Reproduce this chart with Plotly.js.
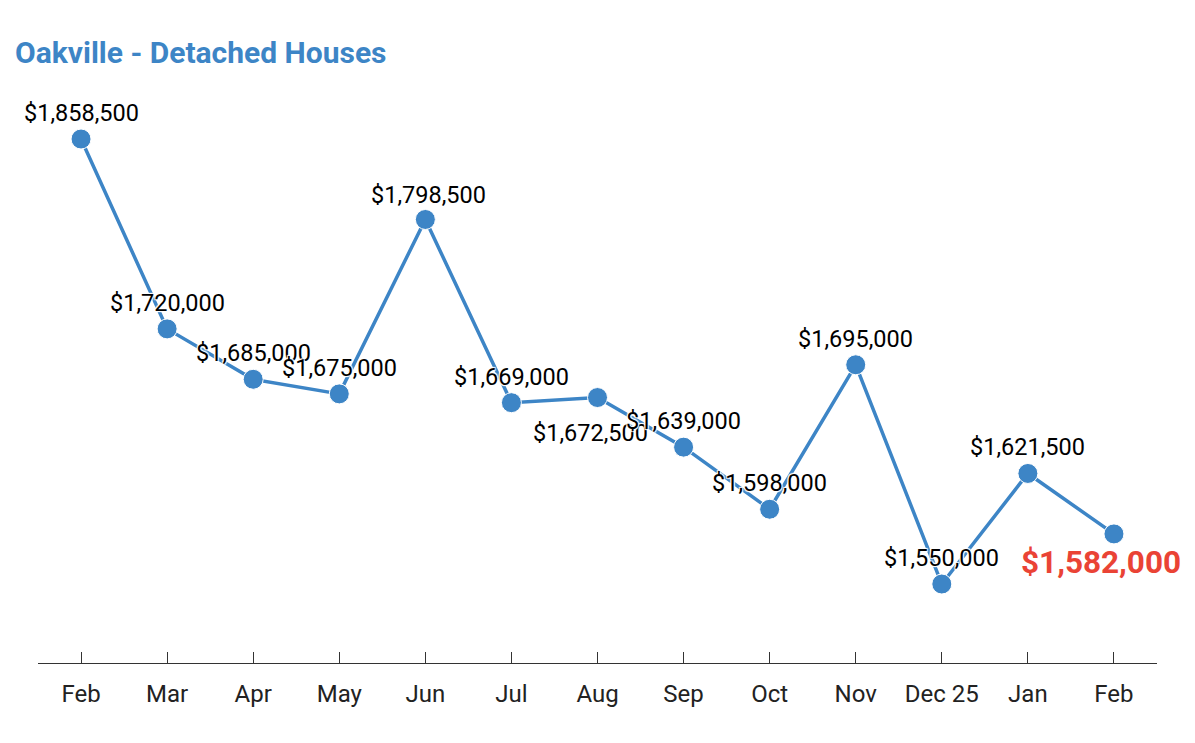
<!DOCTYPE html>
<html>
<head>
<meta charset="utf-8">
<script src="https://cdn.plot.ly/plotly-3.0.1.min.js"></script>
<style>html,body{margin:0;padding:0;background:#fff}#chart{width:1195px;height:743px}</style>
</head>
<body>
<div id="chart"></div>
<script>
const months = ["Feb","Mar","Apr","May","Jun","Jul","Aug","Sep","Oct","Nov","Dec 25","Jan","Feb"];
const prices = [1858500,1720000,1685000,1675000,1798500,1669000,1672500,1639000,1598000,1695000,1550000,1621500,1582000];

const xIdx = months.map((_, i) => i);
const fmt = v => "$" + v.toLocaleString("en-US");

// label placement (pixel offsets), kept separate from data
const labelShift = xIdx.map(() => ({x: 0, y: 26}));
labelShift[4] = {x: 3, y: 24};
labelShift[6] = {x: -7, y: -35};

const blue = "#3d85c6";
const red = "#ea4335";
const last = prices.length - 1;

const annotations = prices.map((v, i) => {
  const isLast = i === last;
  const s = isLast ? {x: -13, y: -29} : labelShift[i];
  return {
    x: i, y: Math.log10(v), xref: "x", yref: "y",
    text: fmt(v), showarrow: false,
    xanchor: "center", yanchor: "middle",
    xshift: s.x, yshift: s.y,
    font: isLast
      ? {family: "Roboto", size: 31.5, color: red, weight: 700}
      : {family: "Roboto", size: 23.5, color: "#000", shadow: "1px 1px 1px #fff, -1px -1px 1px #fff, 1px -1px 1px #fff, -1px 1px 1px #fff"}
  };
});

const trace = {
  x: xIdx, y: prices, type: "scatter", mode: "lines+markers",
  line: {color: blue, width: 3.5},
  marker: {color: blue, size: 20, line: {color: "#fff", width: 1}},
  hoverinfo: "skip", cliponaxis: false
};

const layout = {
  width: 1195, height: 743,
  margin: {l: 38, r: 38, t: 80, b: 80},
  paper_bgcolor: "#fff", plot_bgcolor: "#fff",
  showlegend: false,
  title: {
    text: "<b>Oakville - Detached Houses</b>",
    font: {family: "Roboto", size: 30, color: blue},
    x: 15/1195, xanchor: "left", xref: "container",
    y: 1 - 52/743, yanchor: "middle", yref: "container"
  },
  xaxis: {
    range: [-0.5, 12.5], tickmode: "array", tickvals: xIdx, ticktext: months,
    showgrid: false, zeroline: false,
    showline: true, linecolor: "#333", linewidth: 1,
    ticks: "inside", ticklen: 11, tickcolor: "#333", tickwidth: 1,
    tickfont: {family: "Roboto", size: 24, color: "#222"},
    ticklabelstandoff: 9
  },
  yaxis: {
    type: "log", range: [6.17634, 6.27962],
    visible: false, showgrid: false, zeroline: false
  },
  annotations: annotations
};

Plotly.newPlot("chart", [trace], layout, {staticPlot: true, displayModeBar: false});
</script>
</body>
</html>
